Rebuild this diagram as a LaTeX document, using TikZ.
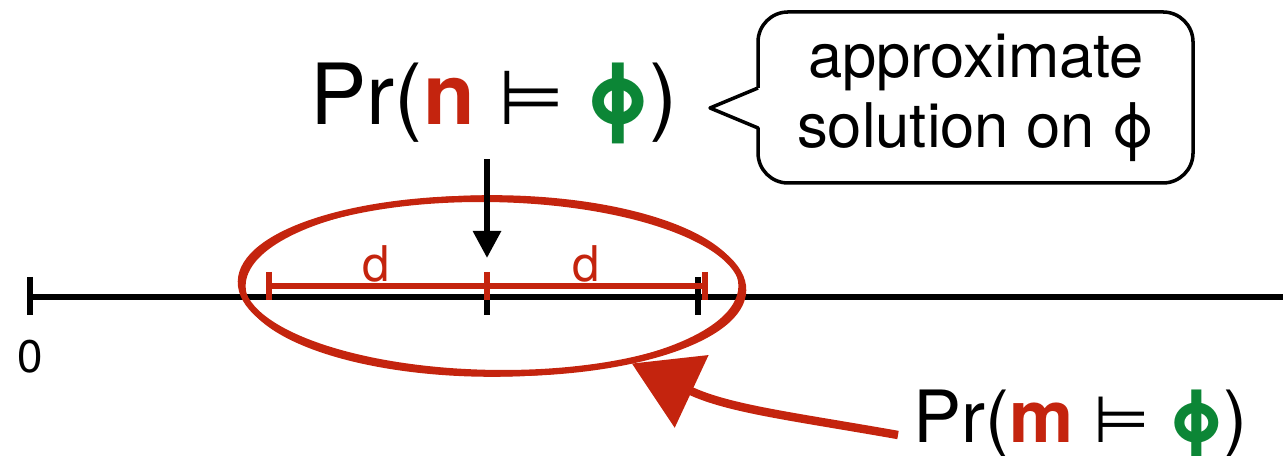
\documentclass[tikz,border=0pt]{standalone}
\usepackage{fontspec}
\setmainfont{TeX Gyre Heros}
\newfontfamily\symfont{DejaVu Sans}
\usetikzlibrary{arrows.meta,shapes.geometric}
\definecolor{markred}{RGB}{196,36,14}
\definecolor{solgreen}{RGB}{12,134,54}
\newcommand{\probsat}[1]{Pr(\textbf{\color{markred}#1} {\symfont\scalebox{0.9}{⊨}} \textbf{\color{solgreen}ϕ})}

\begin{document}
\begin{tikzpicture}[x=0.01cm, y=-0.01cm, >={Triangle[length=2.7mm, width=2.7mm]},
	axis/.style={line width=1.7pt}, interval/.style={markred, line width=1.5pt}]
	\useasboundingbox (0,0) rectangle (1283,456);
	\draw[axis] (30,297) -- (1290,297);
	\foreach \x/\t in {30/277, 487/290, 698/277} \draw[axis] (\x,\t) -- (\x,315);
	\node[font=\fontsize{13}{15}\selectfont] (zero) at (30,357) {0};
	\draw[interval] (269,286) -- (705,286);
	\foreach \x in {269,487,705} \draw[interval, line width=1.6pt] (\x,272) -- (\x,300);
	\node[markred, font=\fontsize{14}{16}\selectfont] (dleft) at (376,264) {d};
	\node[markred, font=\fontsize{14}{16}\selectfont] (dright) at (586,264) {d};
	\node[ellipse, draw=markred, line width=1.8pt, minimum width=5.02cm, minimum height=1.74cm, rotate=-1] (region) at (492,286) {};
	\draw[markred, line width=1pt] (region.center) ellipse [x radius=2.48cm, y radius=0.89cm];
	\node[font=\fontsize{24}{28}\selectfont, anchor=base, inner sep=4pt] (pn) at (494,125) {\probsat{n}};
	\node[font=\fontsize{20.5}{24}\selectfont, anchor=base west, inner sep=0pt] (pm) at (913,443) {\probsat{m}};
	\coordinate (mid) at (487,258);
	\draw[axis, ->] (pn.south -| mid) -- (mid);
	\draw[markred, line width=2.4pt, -{Triangle[length=6.6mm, width=7.8mm]}] ([xshift=-1.5mm, yshift=-1mm]pm.west) to[out=170, in=-25] (region.-28);
	\draw[line width=1pt, line join=round] (758,88) -- (710,108) -- (758,128) [rounded corners=3mm] -- (758,183) -- (1193,183) -- (1193,12) -- (758,12) -- (758,88);
	\node[font=\fontsize{17.5}{20}\selectfont, align=center] (note) at (976,98) {approximate\\solution on ϕ};
\end{tikzpicture}
\end{document}
